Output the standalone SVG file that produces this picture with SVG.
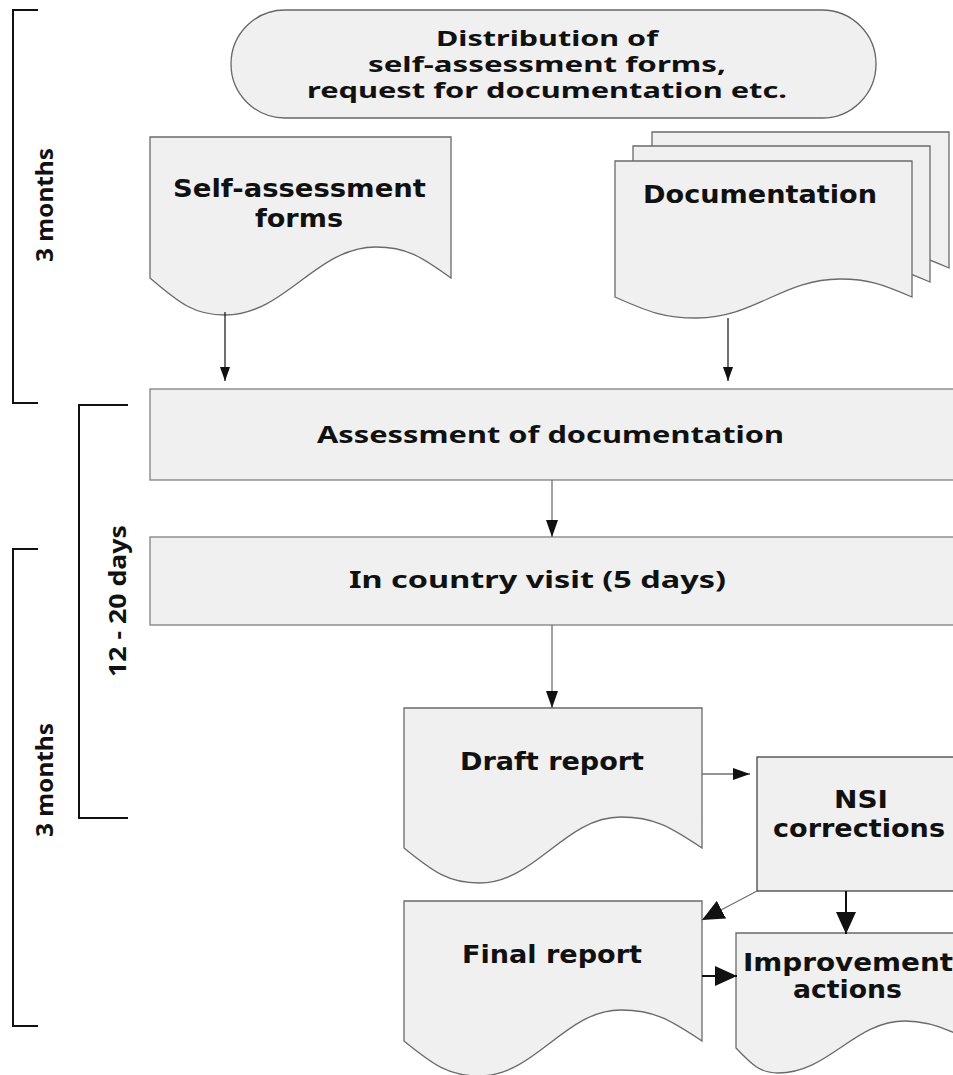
<svg xmlns="http://www.w3.org/2000/svg" width="953" height="1075" viewBox="0 0 953 1075">
<style>
.shape{fill:#f0f0f0;stroke:#808080;stroke-width:1.3}
.wave{fill:#f0f0f0;stroke:#6a6a6a;stroke-width:1.3}
.t1{font-family:"DejaVu Sans",Verdana,sans-serif;font-weight:bold;font-size:24px;fill:#111}
.t2{font-family:"Noto Sans","DejaVu Sans",sans-serif;font-weight:bold;font-size:23px;fill:#111}
.t3{font-family:"Noto Sans","DejaVu Sans",sans-serif;font-weight:bold;font-size:21px;fill:#111}
.lb{font-family:"Noto Sans","DejaVu Sans",sans-serif;font-weight:bold;font-size:24px;fill:#111}
.br{fill:none;stroke:#111;stroke-width:2}
.c{fill:none;stroke:#111;stroke-width:1.2}
.cg{fill:none;stroke:#707070;stroke-width:1.3}
.ck{fill:none;stroke:#111;stroke-width:2}
</style>
<defs>
<marker id="ahS" viewBox="0 0 14 10" refX="14" refY="5" markerWidth="14" markerHeight="10" markerUnits="userSpaceOnUse" orient="auto"><path d="M0,0 L14,5 L0,10 z" fill="#111"/></marker>
<marker id="ahM" viewBox="0 0 17 12" refX="17" refY="6" markerWidth="17" markerHeight="12" markerUnits="userSpaceOnUse" orient="auto"><path d="M0,0 L17,6 L0,12 z" fill="#111"/></marker>
<marker id="ahL" viewBox="0 0 22 20" refX="22" refY="10" markerWidth="22" markerHeight="20" markerUnits="userSpaceOnUse" orient="auto"><path d="M0,0 L22,10 L0,20 z" fill="#111"/></marker>
<path id="docFront" d="M615,161 H912 V297 C883.2,284.4 868.8,279 840,279 C782.8,279 754.2,318 697,318 C664.2,318 647.8,311.7 615,297 Z"/>
<path id="report" d="M404,708 H702 V848 C669.6,826.3 653.4,817 621,817 C564.2,817 535.8,883 479,883 C449,883 434,872.5 404,848 Z"/>
</defs>

<g id="brackets">
<path class="br" d="M38,10 H13 V403 H38"/>
<path class="br" d="M128,405 H79 V818 H128"/>
<path class="br" d="M38,549 H13 V1026 H38"/>
<text class="lb" transform="translate(53,262) rotate(-90)" textLength="114" lengthAdjust="spacingAndGlyphs">3 months</text>
<text class="lb" transform="translate(126,677) rotate(-90)" textLength="152" lengthAdjust="spacingAndGlyphs">12 - 20 days</text>
<text class="lb" transform="translate(53,837) rotate(-90)" textLength="114" lengthAdjust="spacingAndGlyphs">3 months</text>
</g>

<g id="distribution">
<rect class="shape" x="231" y="10" width="645" height="108" rx="54" ry="54" style="stroke:#666"/>
<text class="t3" x="436" y="46" textLength="222" lengthAdjust="spacingAndGlyphs">Distribution of</text>
<text class="t3" x="368" y="72" textLength="358" lengthAdjust="spacingAndGlyphs">self-assessment forms,</text>
<text class="t3" x="307" y="98" textLength="480" lengthAdjust="spacingAndGlyphs">request for documentation etc.</text>
</g>

<g id="self-assessment">
<path class="wave" d="M150,137 H451 V278 C421,256.3 406,247 376,247 C315.6,247 285.4,315 225,315 C195,315 180,303.9 150,278 Z"/>
<text class="t1" x="173" y="197" textLength="253" lengthAdjust="spacingAndGlyphs">Self-assessment</text>
<text class="t1" x="255" y="227" textLength="88" lengthAdjust="spacingAndGlyphs">forms</text>
</g>

<g id="documentation">
<use href="#docFront" class="wave" transform="translate(37,-29)"/>
<use href="#docFront" class="wave" transform="translate(18,-15)"/>
<use href="#docFront" class="wave"/>
<text class="t1" x="643" y="203" textLength="234" lengthAdjust="spacingAndGlyphs">Documentation</text>
</g>

<g id="assessment">
<rect class="shape" x="150" y="389" width="815" height="91"/>
<text class="t2" x="317" y="443" textLength="467" lengthAdjust="spacingAndGlyphs">Assessment of documentation</text>
</g>

<g id="visit">
<rect class="shape" x="150" y="537" width="815" height="88"/>
<text class="t2" x="349" y="588" textLength="377" lengthAdjust="spacingAndGlyphs">In country visit (5 days)</text>
</g>

<g id="draft">
<use href="#report" class="wave"/>
<text class="t1" x="460" y="770" textLength="184" lengthAdjust="spacingAndGlyphs">Draft report</text>
</g>

<g id="nsi">
<rect class="shape" x="757" y="757" width="210" height="134" style="stroke:#444"/>
<text class="t1" x="834" y="808" textLength="54" lengthAdjust="spacingAndGlyphs">NSI</text>
<text class="t1" x="773" y="837" textLength="172" lengthAdjust="spacingAndGlyphs">corrections</text>
</g>

<g id="final">
<use href="#report" class="wave" transform="translate(0,193)"/>
<text class="t1" x="462" y="963" textLength="180" lengthAdjust="spacingAndGlyphs">Final report</text>
</g>

<g id="improvement">
<path class="wave" d="M736,933 H985 V1050 C958,1032 932,1021 905,1021 C854,1021 829,1073 778,1073 C761,1073 753,1066 736,1048 Z"/>
<text class="t1" x="743" y="971" textLength="210" lengthAdjust="spacingAndGlyphs">Improvement</text>
<text class="t1" x="793" y="998" textLength="109" lengthAdjust="spacingAndGlyphs">actions</text>
</g>

<g id="connectors">
<path class="c" d="M225,312 V381" marker-end="url(#ahS)"/>
<path class="c" d="M728,318 V381" marker-end="url(#ahS)"/>
<path class="cg" d="M552,480 V537" marker-end="url(#ahM)"/>
<path class="cg" d="M552,625 V708" marker-end="url(#ahM)"/>
<path class="cg" d="M702,774 H750" marker-end="url(#ahM)"/>
<path class="cg" d="M757,891 L702,920" marker-end="url(#ahL)"/>
<path class="ck" d="M846,891 V934" marker-end="url(#ahL)"/>
<path class="ck" d="M702,976 H737" marker-end="url(#ahL)"/>
</g>
</svg>
